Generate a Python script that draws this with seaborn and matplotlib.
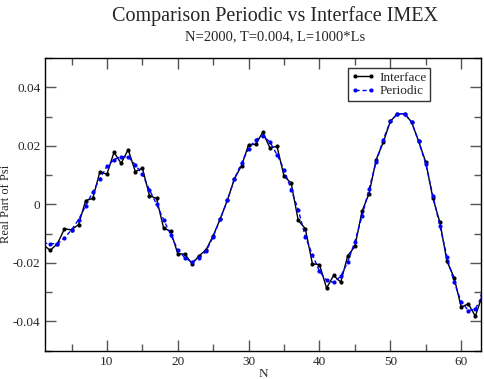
import numpy as np
import pandas as pd
import matplotlib
matplotlib.use("Agg")
import matplotlib.pyplot as plt
import seaborn as sns
from matplotlib.ticker import MultipleLocator

# values
n_points = list(range(1, 64))
interface = [
    -0.0138, -0.0157, -0.0135, -0.0084, -0.0087, -0.0069, 0.0013, 0.0020, 0.0111, 0.0103,
    0.0178, 0.0140, 0.0187, 0.0112, 0.0124, 0.0030, 0.0020, -0.0081, -0.0092, -0.0169,
    -0.0170, -0.0203, -0.0176, -0.0155, -0.0107, -0.0049, 0.0014, 0.0088, 0.0132, 0.0204,
    0.0205, 0.0246, 0.0193, 0.0198, 0.0096, 0.0073, -0.0055, -0.0083, -0.0203, -0.0206,
    -0.0286, -0.0243, -0.0266, -0.0175, -0.0144, -0.0024, 0.0037, 0.0153, 0.0212, 0.0284,
    0.0309, 0.0310, 0.0281, 0.0215, 0.0144, 0.0022, -0.0062, -0.0195, -0.0250, -0.0351,
    -0.0340, -0.0382, -0.0310,
]
periodic = [
    -0.0133, -0.0134, -0.0135, -0.0115, -0.0087, -0.0052, -0.0005, 0.0042, 0.0087, 0.0130,
    0.0153, 0.0163, 0.0162, 0.0136, 0.0102, 0.0050, 0.0000, -0.0052, -0.0104, -0.0155,
    -0.0183, -0.0197, -0.0183, -0.0160, -0.0110, -0.0050, 0.0014, 0.0087, 0.0142, 0.0190,
    0.0221, 0.0235, 0.0213, 0.0170, 0.0119, 0.0050, -0.0018, -0.0110, -0.0172, -0.0229,
    -0.0260, -0.0267, -0.0246, -0.0196, -0.0127, -0.0041, 0.0053, 0.0145, 0.0221, 0.0284,
    0.0309, 0.0310, 0.0281, 0.0215, 0.0138, 0.0030, -0.0074, -0.0180, -0.0266, -0.0332,
    -0.0363, -0.0358, -0.0310,
]

df = pd.DataFrame({"N": n_points, "Interface": interface, "Periodic": periodic})

sns.set_style("ticks")
plt.rcParams["font.family"] = ["Liberation Serif", "DejaVu Serif"]

fig = plt.figure(figsize=(4.85, 3.79), dpi=100)
ax = fig.add_axes([0.0934, 0.0747, 0.8984, 0.7723])

sns.lineplot(data=df, x="N", y="Interface", ax=ax, color="black", lw=1.0,
             marker="o", markersize=3, markeredgewidth=0, label="Interface")
sns.lineplot(data=df, x="N", y="Periodic", ax=ax, color="#0000ff", lw=1.0,
             linestyle=(0, (3, 2)), marker="o", markersize=3, markeredgewidth=0,
             label="Periodic")

ax.set_xlim(1.3, 62.8)
ax.set_ylim(-0.05, 0.05)
ax.xaxis.set_major_locator(MultipleLocator(10))
ax.xaxis.set_minor_locator(MultipleLocator(5))
ax.yaxis.set_major_locator(MultipleLocator(0.02))
ax.yaxis.set_minor_locator(MultipleLocator(0.01))
ax.yaxis.set_major_formatter(plt.FuncFormatter(lambda v, p: "0" if abs(v) < 1e-9 else f"{v:.2f}"))

ax.tick_params(which="both", direction="in", top=True, right=True,
               color="#555555", labelsize=9.5, width=1)
ax.tick_params(which="major", length=8)
ax.tick_params(which="minor", length=5)
for s in ax.spines.values():
    s.set_linewidth(1.0)
    s.set_color("black")

ax.set_xlabel("N", fontsize=9.5, labelpad=0)
ax.set_ylabel("Real Part of Psi", fontsize=9)
ax.yaxis.set_label_coords(-0.077, 0.5)

fig.text(0.567, 0.958, "Comparison Periodic vs Interface IMEX", ha="center", va="center", fontsize=14.5)
fig.text(0.567, 0.903, "N=2000, T=0.004, L=1000*Ls", ha="center", va="center", fontsize=10.5)

leg = ax.legend(loc="upper left", bbox_to_anchor=(0.695, 0.965), numpoints=2,
                fontsize=9.5, frameon=True, fancybox=False, edgecolor="black",
                handlelength=1.8, handletextpad=0.3, borderpad=0.25, labelspacing=0.1,
                borderaxespad=0)
leg.get_frame().set_linewidth(1.0)

plt.savefig("out.png", dpi=100)
